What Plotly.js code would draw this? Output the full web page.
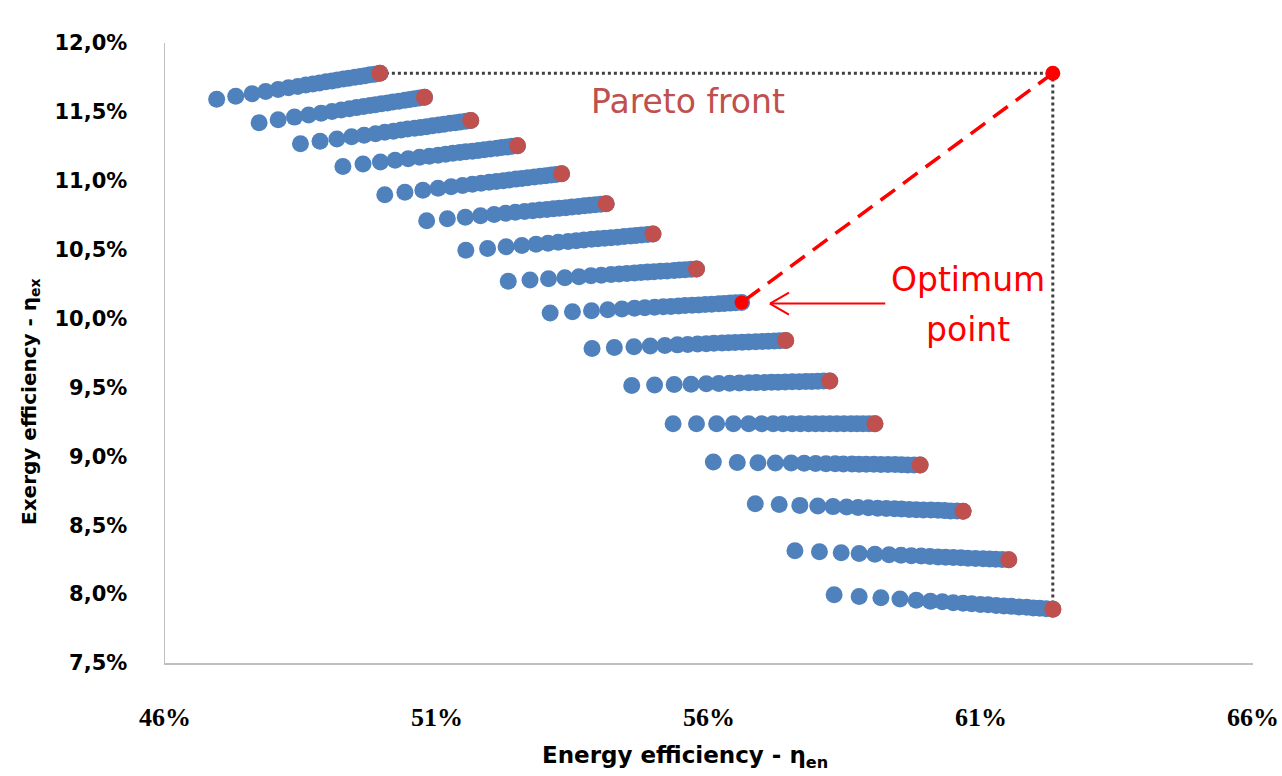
<!DOCTYPE html>
<html>
<head>
<meta charset="utf-8">
<script src="https://cdn.plot.ly/plotly-3.0.1.min.js"></script>
<style>
  html, body { margin: 0; padding: 0; background: #ffffff; }
  #chart { width: 1282px; height: 776px; }
</style>
</head>
<body>
<div id="chart"></div>
<script>
// Energy efficiency (en, %) and exergy efficiency (ex, %) of each design family
const en01 = [46.95, 47.30, 47.60, 47.85, 48.08, 48.27, 48.44, 48.59, 48.72, 48.84, 48.96, 49.07, 49.17, 49.28, 49.38, 49.49, 49.59, 49.68, 49.77, 49.86, 49.95];
const ex01 = [11.592, 11.614, 11.632, 11.648, 11.663, 11.675, 11.685, 11.695, 11.703, 11.710, 11.718, 11.725, 11.731, 11.738, 11.744, 11.751, 11.757, 11.763, 11.769, 11.774, 11.780];

const en02 = [47.73, 48.08, 48.38, 48.64, 48.87, 49.07, 49.24, 49.39, 49.52, 49.65, 49.77, 49.87, 49.98, 50.09, 50.19, 50.30, 50.41, 50.50, 50.59, 50.68, 50.77];
const ex02 = [11.422, 11.443, 11.462, 11.478, 11.491, 11.503, 11.514, 11.523, 11.531, 11.539, 11.546, 11.552, 11.559, 11.565, 11.572, 11.578, 11.585, 11.590, 11.596, 11.601, 11.607];

const en03 = [48.49, 48.85, 49.16, 49.43, 49.66, 49.87, 50.04, 50.20, 50.34, 50.46, 50.59, 50.70, 50.81, 50.92, 51.03, 51.13, 51.24, 51.34, 51.43, 51.53, 51.62];
const ex03 = [11.268, 11.287, 11.304, 11.319, 11.331, 11.342, 11.352, 11.360, 11.368, 11.375, 11.381, 11.387, 11.393, 11.399, 11.405, 11.411, 11.417, 11.422, 11.427, 11.432, 11.437];

const en04 = [49.27, 49.64, 49.96, 50.23, 50.47, 50.68, 50.86, 51.02, 51.16, 51.29, 51.42, 51.53, 51.65, 51.76, 51.87, 51.98, 52.10, 52.19, 52.29, 52.38, 52.48];
const ex04 = [11.104, 11.121, 11.136, 11.149, 11.160, 11.170, 11.178, 11.186, 11.193, 11.199, 11.205, 11.210, 11.215, 11.220, 11.226, 11.231, 11.236, 11.241, 11.245, 11.250, 11.254];

const en05 = [50.04, 50.41, 50.74, 51.02, 51.26, 51.47, 51.65, 51.81, 51.96, 52.09, 52.22, 52.33, 52.45, 52.56, 52.67, 52.79, 52.90, 53.00, 53.10, 53.19, 53.29];
const ex05 = [10.899, 10.917, 10.932, 10.945, 10.956, 10.966, 10.974, 10.982, 10.989, 10.995, 11.001, 11.006, 11.012, 11.017, 11.022, 11.027, 11.033, 11.037, 11.042, 11.046, 11.051];

const en06 = [50.81, 51.19, 51.52, 51.80, 52.05, 52.26, 52.44, 52.61, 52.76, 52.89, 53.02, 53.14, 53.25, 53.37, 53.48, 53.60, 53.71, 53.81, 53.91, 54.01, 54.11];
const ex06 = [10.710, 10.724, 10.736, 10.747, 10.756, 10.764, 10.771, 10.777, 10.783, 10.788, 10.792, 10.797, 10.801, 10.805, 10.810, 10.814, 10.818, 10.822, 10.826, 10.829, 10.833];

const en07 = [51.53, 51.93, 52.27, 52.56, 52.82, 53.04, 53.23, 53.41, 53.56, 53.70, 53.84, 53.96, 54.08, 54.20, 54.32, 54.44, 54.56, 54.66, 54.76, 54.87, 54.97];
const ex07 = [10.495, 10.509, 10.521, 10.531, 10.540, 10.547, 10.554, 10.560, 10.565, 10.570, 10.575, 10.579, 10.583, 10.587, 10.591, 10.596, 10.600, 10.603, 10.607, 10.610, 10.614];

const en08 = [52.31, 52.71, 53.05, 53.35, 53.61, 53.83, 54.02, 54.20, 54.35, 54.49, 54.63, 54.75, 54.87, 54.99, 55.11, 55.23, 55.36, 55.46, 55.56, 55.67, 55.77];
const ex08 = [10.270, 10.280, 10.289, 10.297, 10.304, 10.310, 10.315, 10.319, 10.323, 10.327, 10.330, 10.334, 10.337, 10.340, 10.343, 10.346, 10.349, 10.352, 10.355, 10.357, 10.360];

const en09 = [53.08, 53.49, 53.84, 54.14, 54.40, 54.63, 54.82, 55.00, 55.16, 55.30, 55.44, 55.56, 55.69, 55.81, 55.93, 56.05, 56.18, 56.28, 56.39, 56.49, 56.60];
const ex09 = [10.041, 10.050, 10.057, 10.064, 10.069, 10.074, 10.078, 10.082, 10.085, 10.088, 10.091, 10.094, 10.097, 10.099, 10.102, 10.104, 10.107, 10.109, 10.112, 10.114, 10.116];

const en10 = [53.85, 54.26, 54.62, 54.92, 55.19, 55.42, 55.61, 55.79, 55.95, 56.09, 56.24, 56.36, 56.48, 56.61, 56.73, 56.86, 56.98, 57.09, 57.20, 57.30, 57.41];
const ex10 = [9.783, 9.790, 9.796, 9.800, 9.805, 9.809, 9.812, 9.815, 9.817, 9.820, 9.822, 9.824, 9.826, 9.828, 9.830, 9.832, 9.834, 9.836, 9.838, 9.839, 9.841];

const en11 = [54.58, 55.00, 55.36, 55.67, 55.95, 56.18, 56.38, 56.56, 56.73, 56.87, 57.02, 57.15, 57.27, 57.40, 57.53, 57.66, 57.78, 57.89, 58.00, 58.11, 58.22];
const ex11 = [9.514, 9.518, 9.521, 9.524, 9.526, 9.529, 9.530, 9.532, 9.534, 9.535, 9.536, 9.537, 9.538, 9.540, 9.541, 9.542, 9.543, 9.544, 9.545, 9.546, 9.547];

const en12 = [55.34, 55.77, 56.14, 56.45, 56.73, 56.97, 57.18, 57.36, 57.53, 57.68, 57.83, 57.96, 58.09, 58.22, 58.35, 58.48, 58.61, 58.72, 58.83, 58.94, 59.05];
const ex12 = [9.237, 9.237, 9.237, 9.237, 9.237, 9.237, 9.237, 9.237, 9.237, 9.237, 9.237, 9.237, 9.237, 9.237, 9.237, 9.237, 9.237, 9.237, 9.237, 9.237, 9.237];

const en13 = [56.08, 56.52, 56.90, 57.22, 57.51, 57.75, 57.96, 58.15, 58.32, 58.47, 58.63, 58.76, 58.89, 59.03, 59.16, 59.29, 59.42, 59.54, 59.65, 59.77, 59.88];
const ex13 = [8.959, 8.956, 8.954, 8.952, 8.951, 8.949, 8.948, 8.947, 8.946, 8.945, 8.944, 8.943, 8.943, 8.942, 8.941, 8.940, 8.940, 8.939, 8.938, 8.938, 8.937];

const en14 = [56.85, 57.29, 57.67, 58.00, 58.28, 58.53, 58.74, 58.93, 59.10, 59.26, 59.41, 59.54, 59.68, 59.81, 59.94, 60.08, 60.21, 60.33, 60.44, 60.56, 60.67];
const ex14 = [8.656, 8.650, 8.644, 8.640, 8.635, 8.632, 8.629, 8.626, 8.624, 8.621, 8.619, 8.617, 8.615, 8.613, 8.611, 8.610, 8.608, 8.606, 8.604, 8.603, 8.601];

const en15 = [57.58, 58.03, 58.43, 58.76, 59.05, 59.31, 59.53, 59.72, 59.90, 60.06, 60.21, 60.35, 60.49, 60.63, 60.76, 60.90, 61.04, 61.16, 61.27, 61.39, 61.51];
const ex15 = [8.314, 8.307, 8.300, 8.295, 8.290, 8.285, 8.282, 8.279, 8.276, 8.273, 8.270, 8.268, 8.266, 8.264, 8.261, 8.259, 8.257, 8.255, 8.253, 8.251, 8.249];

const en16 = [58.30, 58.76, 59.16, 59.51, 59.81, 60.07, 60.29, 60.49, 60.67, 60.83, 60.99, 61.13, 61.28, 61.42, 61.56, 61.70, 61.84, 61.96, 62.08, 62.20, 62.32];
const ex16 = [7.995, 7.983, 7.973, 7.964, 7.956, 7.949, 7.944, 7.938, 7.934, 7.930, 7.925, 7.922, 7.918, 7.914, 7.911, 7.907, 7.904, 7.900, 7.897, 7.894, 7.891];

// Pareto-optimal designs (best exergy efficiency of each family)
const paretoEn = [49.95, 50.77, 51.62, 52.48, 53.29, 54.11, 54.97, 55.77, 57.41, 58.22, 59.05, 59.88, 60.67, 61.51, 62.32];
const paretoEx = [11.780, 11.607, 11.437, 11.254, 11.051, 10.833, 10.614, 10.360, 9.841, 9.547, 9.237, 8.937, 8.601, 8.249, 7.891];

// Selected optimum and the (unreachable) ideal point
const optimumEn = [56.60];
const optimumEx = [10.116];
const idealEn = [62.32];
const idealEx = [11.780];

// Axis ticks and their labels
const xTicks = [46, 51, 56, 61, 66];
const xTickLabels = ['46%', '51%', '56%', '61%', '66%'];
const yTicks = [7.5, 8.0, 8.5, 9.0, 9.5, 10.0, 10.5, 11.0, 11.5, 12.0];
const yTickLabels = ['7,5%', '8,0%', '8,5%', '9,0%', '9,5%', '10,0%', '10,5%', '11,0%', '11,5%', '12,0%'];

const BLUE = '#4F81BD';
const PARETO_RED = '#C0504D';
const RED = '#FF0000';

const familiesEn = [en01, en02, en03, en04, en05, en06, en07, en08, en09, en10, en11, en12, en13, en14, en15, en16];
const familiesEx = [ex01, ex02, ex03, ex04, ex05, ex06, ex07, ex08, ex09, ex10, ex11, ex12, ex13, ex14, ex15, ex16];

const traces = [];

// Guide lines from the ideal point to the extremes of the front
traces.push({
  x: [paretoEn[0], idealEn[0], idealEn[0]],
  y: [paretoEx[0], idealEx[0], paretoEx[paretoEx.length - 1]],
  mode: 'lines', type: 'scatter', hoverinfo: 'skip',
  line: { color: '#404040', width: 3, dash: 'dot' }
});

familiesEn.forEach((xs, i) => {
  traces.push({
    x: xs, y: familiesEx[i], mode: 'markers', type: 'scatter',
    name: 'Family ' + (i + 1),
    marker: { color: BLUE, size: 17, line: { width: 0 } }
  });
});

traces.push({
  x: paretoEn, y: paretoEx, mode: 'markers', type: 'scatter', name: 'Pareto front',
  marker: { color: PARETO_RED, size: 17, line: { width: 0 } }
});

// Distance from the ideal point to the chosen optimum
traces.push({
  x: [idealEn[0], optimumEn[0]], y: [idealEx[0], optimumEx[0]],
  mode: 'lines', type: 'scatter', hoverinfo: 'skip',
  line: { color: RED, width: 3.5, dash: '18px,10px' }
});

traces.push({
  x: optimumEn, y: optimumEx, mode: 'markers', type: 'scatter', name: 'Optimum point',
  marker: { color: RED, size: 14, line: { width: 0 } }
});

traces.push({
  x: idealEn, y: idealEx, mode: 'markers', type: 'scatter', name: 'Ideal point',
  marker: { color: RED, size: 15, line: { width: 0 } }
});

const labelFont = { family: 'DejaVu Sans, Verdana, sans-serif', size: 33, weight: 500 };

const layout = {
  width: 1282, height: 776,
  margin: { l: 165, r: 29, t: 43, b: 113 },
  paper_bgcolor: '#ffffff', plot_bgcolor: '#ffffff',
  showlegend: false,
  xaxis: {
    range: [46, 66], tickmode: 'array', tickvals: xTicks, ticktext: xTickLabels,
    showgrid: false, zeroline: false,
    showline: true, linecolor: '#BFBFBF', linewidth: 1.5,
    ticks: 'outside', ticklen: 30, tickcolor: 'rgba(0,0,0,0)',
    tickfont: { family: 'Liberation Serif, DejaVu Serif, serif', size: 26, color: '#000000', weight: 'bold' }
  },
  yaxis: {
    range: [7.5, 12], tickmode: 'array', tickvals: yTicks, ticktext: yTickLabels,
    showgrid: false, zeroline: false,
    showline: true, linecolor: '#BFBFBF', linewidth: 1.5,
    ticks: 'outside', ticklen: 32, tickcolor: 'rgba(0,0,0,0)',
    tickfont: { family: 'DejaVu Sans, Verdana, sans-serif', size: 21, color: '#000000', weight: 'bold' }
  },
  shapes: [
    // arrow pointing at the optimum
    { type: 'line', xref: 'x', yref: 'y', x0: 59.24, y0: 10.109, x1: 57.12, y1: 10.109, line: { color: RED, width: 2 } },
    { type: 'line', xref: 'x', yref: 'y', x0: 57.12, y0: 10.109, x1: 57.47, y1: 10.189, line: { color: RED, width: 2 } },
    { type: 'line', xref: 'x', yref: 'y', x0: 57.12, y0: 10.109, x1: 57.47, y1: 10.029, line: { color: RED, width: 2 } }
  ],
  annotations: [
    { text: 'Pareto front', x: 55.61, y: 11.572, xref: 'x', yref: 'y', showarrow: false,
      font: Object.assign({}, labelFont, { color: PARETO_RED }) },
    { text: 'Ideal point', x: 63.76, y: 12.109, xref: 'x', yref: 'y', showarrow: false,
      font: Object.assign({}, labelFont, { color: RED }) },
    { text: 'Optimum', x: 60.76, y: 10.283, xref: 'x', yref: 'y', showarrow: false,
      font: Object.assign({}, labelFont, { color: RED }) },
    { text: 'point', x: 60.76, y: 9.920, xref: 'x', yref: 'y', showarrow: false,
      font: Object.assign({}, labelFont, { color: RED }) },
    { text: 'Energy efficiency - η<sub>en</sub>', x: 0.478, y: -0.1516, xref: 'paper', yref: 'paper',
      xanchor: 'center', yanchor: 'middle', showarrow: false,
      font: { family: 'DejaVu Sans, Verdana, sans-serif', size: 23, color: '#000000', weight: 'bold' } },
    { text: 'Exergy efficiency - η<sub>ex</sub>', x: -0.1241, y: 0.4226, xref: 'paper', yref: 'paper',
      xanchor: 'center', yanchor: 'middle', textangle: -90, showarrow: false,
      font: { family: 'DejaVu Sans, Verdana, sans-serif', size: 20, color: '#000000', weight: 'bold' } }
  ]
};

Plotly.newPlot('chart', traces, layout, { displayModeBar: false, staticPlot: true });
</script>
</body>
</html>
